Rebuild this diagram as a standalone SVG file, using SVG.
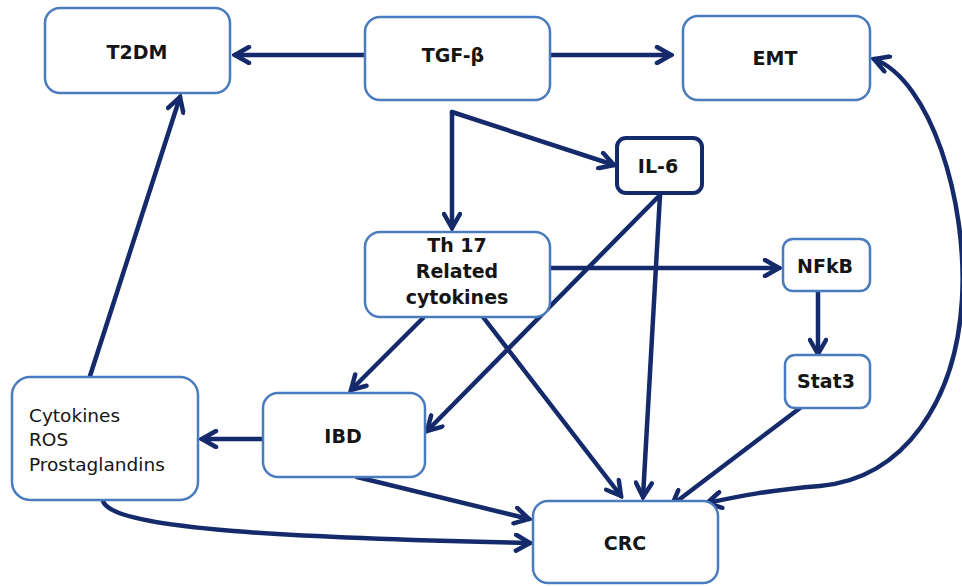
<svg xmlns="http://www.w3.org/2000/svg" width="962" height="586" viewBox="0 0 962 586">
<style>
.box{fill:#ffffff;stroke:#4a7bbd;stroke-width:2.5}
.dark{fill:#ffffff;stroke:#142a6b;stroke-width:4}
.t{font-family:"DejaVu Sans",Verdana,sans-serif;font-weight:bold;font-size:19px;fill:#151515;text-anchor:middle}
.r{font-family:"DejaVu Sans",Verdana,sans-serif;font-size:18.5px;fill:#151515}
.c{fill:none;stroke:#142a6b;stroke-width:4.5;stroke-linecap:round}
</style>
<defs>
<marker id="ah" viewBox="0 0 20 20" refX="17" refY="10" markerWidth="20" markerHeight="20" markerUnits="userSpaceOnUse" orient="auto-start-reverse">
<path d="M3,2 L17,10 L3,18" fill="none" stroke="#142a6b" stroke-width="4.5" stroke-linecap="round" stroke-linejoin="miter"/>
</marker>
</defs>
<rect width="962" height="586" fill="#ffffff"/>
<g id="connectors">
<line class="c" x1="365" y1="55" x2="235" y2="55" marker-end="url(#ah)"/>
<line class="c" x1="550" y1="55" x2="671" y2="55" marker-end="url(#ah)"/>
<polyline class="c" points="452,112 452,228" marker-end="url(#ah)"/>
<line class="c" x1="452" y1="112" x2="614" y2="165" marker-end="url(#ah)"/>
<line class="c" x1="550" y1="268" x2="779" y2="268" marker-end="url(#ah)"/>
<line class="c" x1="818" y1="291" x2="818" y2="354" marker-end="url(#ah)"/>
<line class="c" x1="660" y1="195" x2="643" y2="497" marker-end="url(#ah)"/>
<line class="c" x1="660" y1="195" x2="427" y2="431" marker-end="url(#ah)"/>
<line class="c" x1="423" y1="318" x2="351" y2="390" marker-end="url(#ah)"/>
<line class="c" x1="483" y1="317" x2="621" y2="496" marker-end="url(#ah)"/>
<line class="c" x1="263" y1="439" x2="202" y2="439" marker-end="url(#ah)"/>
<line class="c" x1="90" y1="376" x2="180" y2="97" marker-end="url(#ah)"/>
<line class="c" x1="357" y1="477" x2="529" y2="519" marker-end="url(#ah)"/>
<path class="c" d="M103,501 C112,530 300,538 530,543" marker-end="url(#ah)"/>
<line class="c" x1="800" y1="408" x2="672" y2="505" marker-end="url(#ah)"/>
<path class="c" d="M874,59 C930,80 968,200 962,300 C956,400 905,478 820,486 C770,490 740,496 707,503" marker-start="url(#ah)" marker-end="url(#ah)"/>
</g>
<g id="T2DM">
<rect class="box" x="45" y="8" width="185" height="85" rx="15"/>
<text class="t" x="137" y="59">T2DM</text>
</g>
<g id="TGF">
<rect class="box" x="365" y="17" width="185" height="83" rx="15"/>
<text class="t" x="453" y="62">TGF-β</text>
</g>
<g id="EMT">
<rect class="box" x="683" y="16" width="187" height="84" rx="15"/>
<text class="t" x="775" y="65">EMT</text>
</g>
<g id="IL6">
<rect class="dark" x="617" y="138" width="85" height="55" rx="9"/>
<text class="t" x="658" y="173">IL-6</text>
</g>
<g id="Th17">
<rect class="box" x="365" y="232" width="185" height="85" rx="15"/>
<text class="t" x="457" y="252">Th 17</text>
<text class="t" x="457" y="278">Related</text>
<text class="t" x="457" y="304">cytokines</text>
</g>
<g id="NFkB">
<rect class="box" x="783" y="239" width="87" height="52" rx="10"/>
<text class="t" x="825" y="273">NFkB</text>
</g>
<g id="Stat3">
<rect class="box" x="785" y="355" width="85" height="53" rx="10"/>
<text class="t" x="826" y="388">Stat3</text>
</g>
<g id="Cytokines">
<rect class="box" x="12" y="377" width="186" height="123" rx="18"/>
<text class="r" x="29" y="422">Cytokines</text>
<text class="r" x="29" y="446">ROS</text>
<text class="r" x="29" y="471">Prostaglandins</text>
</g>
<g id="IBD">
<rect class="box" x="263" y="393" width="162" height="84" rx="15"/>
<text class="t" x="343" y="443">IBD</text>
</g>
<g id="CRC">
<rect class="box" x="533" y="501" width="185" height="82" rx="15"/>
<text class="t" x="625" y="550">CRC</text>
</g>
</svg>
